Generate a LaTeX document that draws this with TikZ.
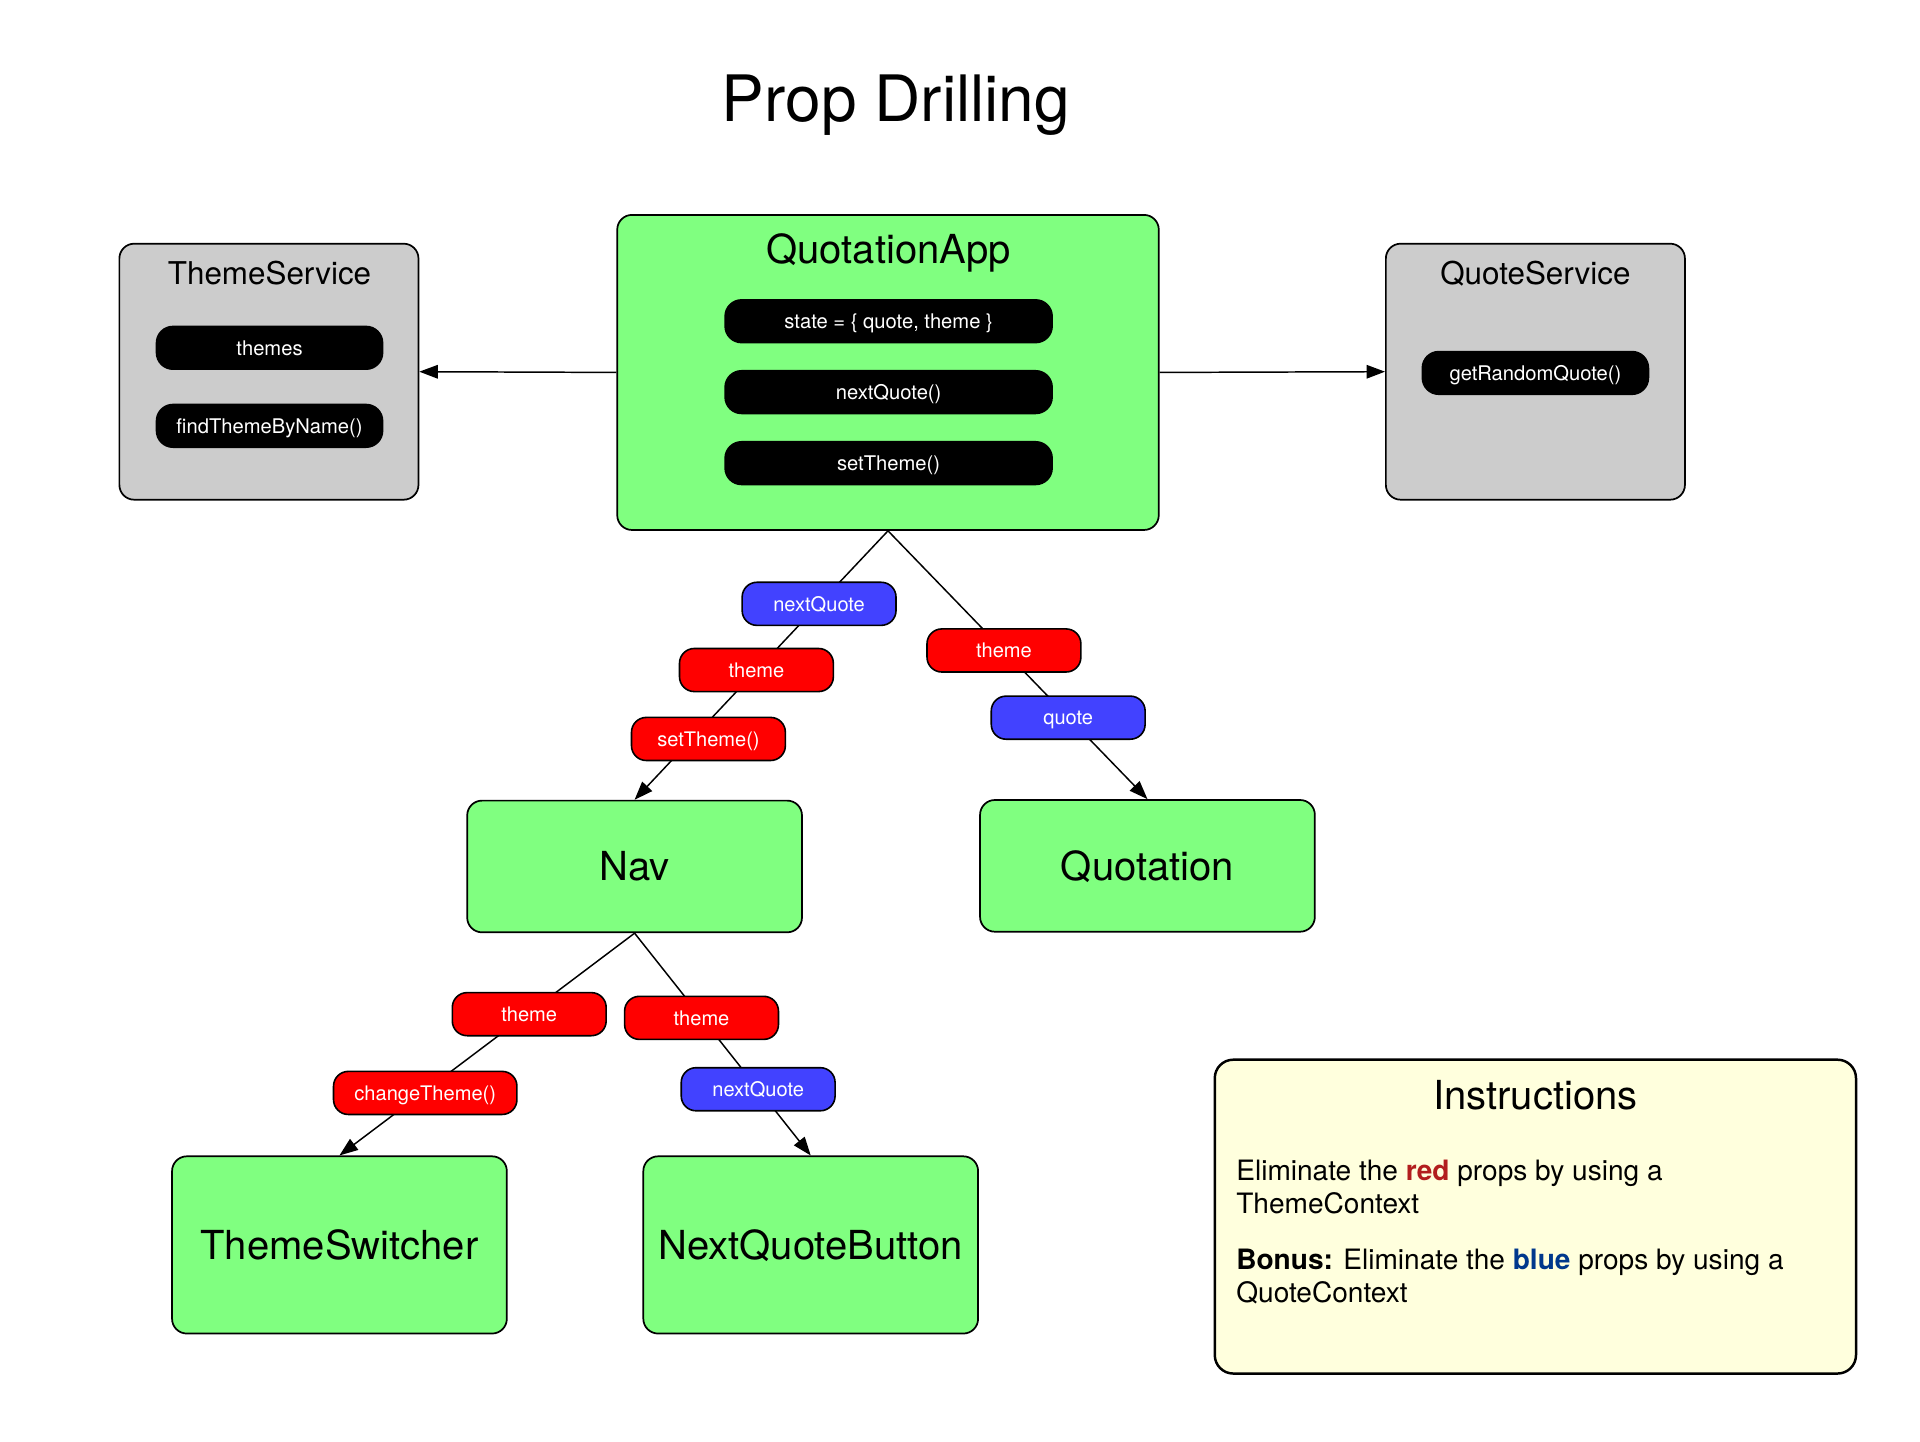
\documentclass[tikz,border=0pt]{standalone}
\usepackage{fontspec}
\setmainfont{TeX Gyre Heros}
\usetikzlibrary{arrows.meta}
\definecolor{cgreen}{RGB}{128,255,128}
\definecolor{cgray}{RGB}{204,204,204}
\definecolor{cred}{RGB}{255,0,0}
\definecolor{cblue}{RGB}{66,66,255}
\definecolor{cyellow}{RGB}{255,255,221}
\definecolor{ired}{RGB}{178,30,30}
\definecolor{iblue}{RGB}{0,56,140}
\begin{document}
\begin{tikzpicture}[x=1pt,y=-1pt,
  gbox/.style={draw=black, line width=1.4pt, rounded corners=12pt, fill=cgreen, inner sep=0pt, minimum width=272pt,
    font=\fontsize{32.5}{38}\selectfont, text height=23.3pt, text depth=0pt},
  sbox/.style={draw=black, line width=1.4pt, rounded corners=12pt, fill=cgray, inner sep=0pt, minimum width=243pt, minimum height=208pt},
  stitle/.style={anchor=base, inner sep=0pt, font=\fontsize{25.5}{30}\selectfont},
  btitle/.style={anchor=base, inner sep=0pt, font=\fontsize{32.5}{38}\selectfont},
  pill/.style={fill=black, text=white, rounded corners=14pt, minimum height=36pt, inner sep=0pt,
    font=\fontsize{16.4}{19}\selectfont, text height=11.8pt, text depth=0pt},
  prop/.style={draw=black, line width=1.3pt, rounded corners=12pt, text=white, minimum width=125pt, minimum height=35pt,
    inner sep=0pt, font=\fontsize{16.3}{19}\selectfont, text height=11.7pt, text depth=0pt},
  redprop/.style={prop, fill=cred},
  blueprop/.style={prop, fill=cblue},
  conn/.style={draw=black, line width=1.2pt},
  arr/.style={conn, -{Triangle[length=15pt,width=11pt]}},
  inst/.style={anchor=base west, inner sep=0pt, font=\fontsize{22.8}{27}\selectfont}
]
\fill[white] (0,0) rectangle (1560,1171.6);
\useasboundingbox (0,0) rectangle (1560,1171.6);

% title
\node[anchor=base, inner sep=0pt, font=\fontsize{52}{60}\selectfont] (title) at (728,99) {Prop Drilling};

% services
\node[sbox] (TS) at (218.5,302) {};
\node[stitle] (TSt) at (219,231) {ThemeService};
\node[pill, minimum width=185pt] (p1) at (219,282.6) {themes};
\node[pill, minimum width=185pt] (p2) at (219,346) {findThemeByName()};

\node[sbox] (QS) at (1247.5,302) {};
\node[stitle] (QSt) at (1247.5,230.8) {QuoteService};
\node[pill, minimum width=185pt] (p3) at (1247.5,303) {getRandomQuote()};

% QuotationApp
\node[gbox, minimum width=440pt, minimum height=256pt] (QA) at (721.5,302.6) {};
\node[btitle] (QAt) at (722,214) {QuotationApp};
\node[pill, minimum width=267pt] (p4) at (722,261) {state = \{ quote, theme \}};
\node[pill, minimum width=267pt] (p5) at (722,318.6) {nextQuote()};
\node[pill, minimum width=267pt] (p6) at (722,376.3) {setTheme()};

% children
\node[gbox, minimum height=107pt] (Nav) at (515.6,704) {Nav};
\node[gbox, minimum height=107pt] (Quo) at (932.3,703.5) {Quotation};
\node[gbox, minimum height=144pt] (TSw) at (275.8,1011.5) {ThemeSwitcher};
\node[gbox, minimum height=144pt] (NQB) at (658.7,1011.5) {NextQuoteButton};

% connectors
\draw[arr] (QA.west) -- (TS.east);
\draw[arr] (QA.east) -- (QS.west);
\draw[arr] (QA.south) -- (Nav.north);
\draw[arr] (QA.south) -- (Quo.north);
\draw[arr] (Nav.south) -- (TSw.north);
\draw[arr] (Nav.south) -- (NQB.north);

% prop labels
\node[blueprop] (l1) at (665.5,490.6) {nextQuote};
\node[redprop] (l2) at (614.6,544.4) {theme};
\node[redprop] (l3) at (575.6,600.4) {setTheme()};
\node[redprop] (l4) at (815.7,528.5) {theme};
\node[blueprop] (l5) at (867.9,583.1) {quote};
\node[redprop] (l6) at (430,824) {theme};
\node[redprop, minimum width=149pt] (l7) at (345.5,888) {changeTheme()};
\node[redprop] (l8) at (570,827) {theme};
\node[blueprop] (l9) at (616,885) {nextQuote};

% instructions
\node[draw=black, line width=2pt, rounded corners=15pt, fill=cyellow, minimum width=521pt, minimum height=255pt] (IN) at (1247.5,988.5) {};
\node[btitle] (INt) at (1247.5,901.3) {Instructions};
\node[inst] (i1) at (1004.3,959.3) {Eliminate the \textcolor{ired}{\textbf{red}} props by using a};
\node[inst] (i2) at (1004.3,986) {ThemeContext};
\node[inst] (i3) at (1004.3,1031.3) {\textbf{Bonus:} Eliminate the \textcolor{iblue}{\textbf{blue}} props by using a};
\node[inst] (i4) at (1004.3,1058.4) {QuoteContext};
\end{tikzpicture}
\end{document}
